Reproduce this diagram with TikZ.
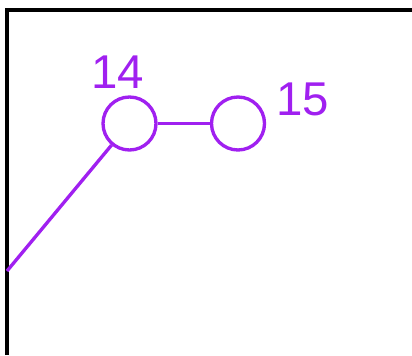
\documentclass[tikz,border=0pt]{standalone}
\usepackage{fontspec}
\setmainfont{Liberation Sans}
\usetikzlibrary{positioning}
\definecolor{Gpurple}{RGB}{160, 32, 240}
\tikzset{
    gvert/.style={
        circle, draw=Gpurple, line width=1.9pt, fill=white,
        minimum size=53*0.02cm, inner sep=0pt
    },
    glabel/.style={
        text=Gpurple, font=\fontsize{27}{29}\selectfont, inner sep=0pt
    },
    gedge/.style={draw=Gpurple, line width=1.9pt},
    gframe/.style={draw=black, line width=1.8pt},
}

\begin{document}
\begin{tikzpicture}[x=0.02cm, y=-0.02cm]
    \useasboundingbox (0,0) rectangle (412,355);

    % ── 边框 ─────────────────────────────────────────
    \draw [gframe] (7,355) -- (7,10) -- (412,10);

    % ── 顶点 ─────────────────────────────────────────
    \node [gvert] (v14) at (129.5,123.5) {};
    \node [gvert] (v15) at (238,123.5) {};
    \coordinate (left) at (7,271);

    % ── 边 ───────────────────────────────────────────
    \draw [gedge] (left) -- (v14);
    \draw [gedge] (v14) -- (v15);

    % ── 标签 ─────────────────────────────────────────
    \node [glabel] (l14) at (118,72) {14};
    \node [glabel] (l15) at (303,99) {15};

\end{tikzpicture}
\end{document}
